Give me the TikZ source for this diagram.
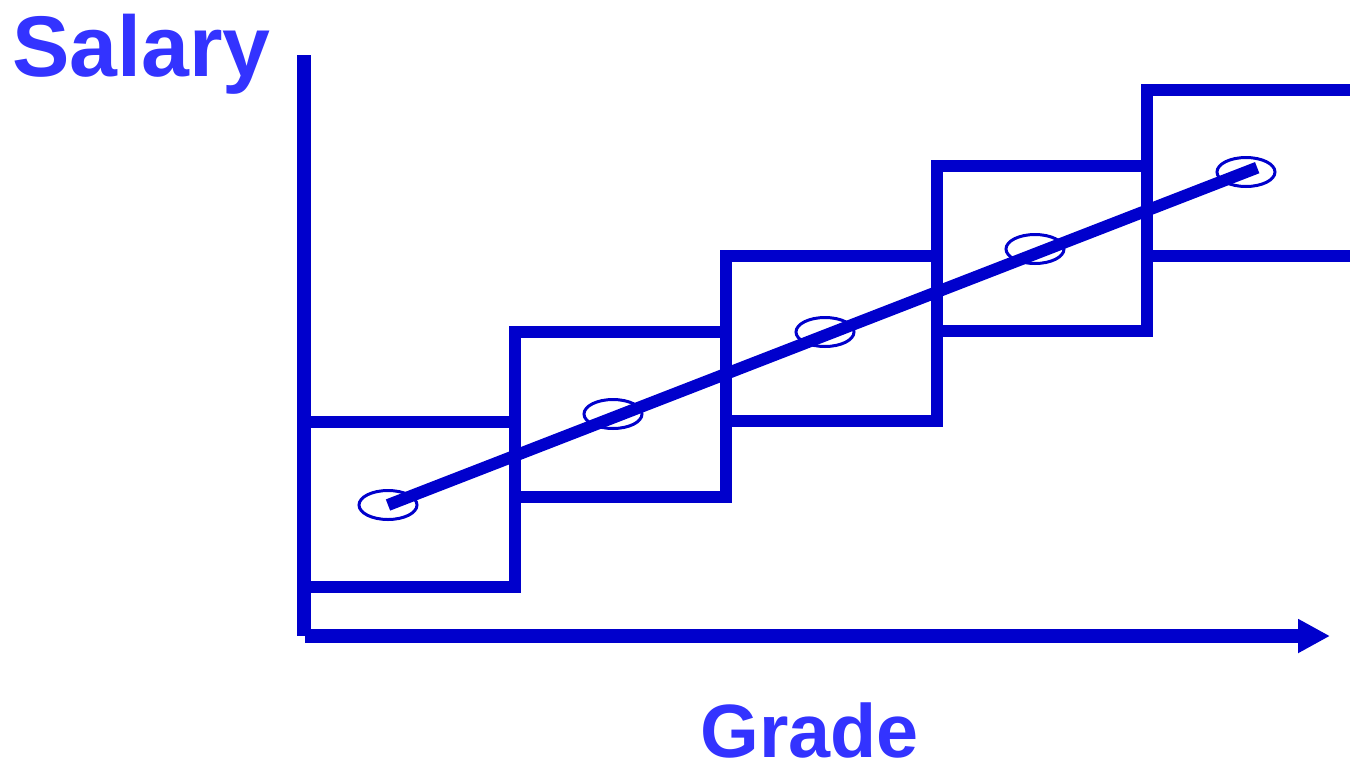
\documentclass[tikz,border=0pt]{standalone}
\usepackage{fontspec}
\setmainfont{Liberation Sans}
\usepackage{tikz}
\usetikzlibrary{arrows.meta,shapes.geometric}
\definecolor{linecol}{HTML}{0000CC}
\definecolor{labelcol}{HTML}{3333FF}

\begin{document}
\begin{tikzpicture}[x=0.02cm, y=-0.02cm, line join=miter,
  every node/.style={text=labelcol, inner sep=0pt},
  axisline/.style={draw=linecol, line width=0.28cm},
  band/.style={draw=linecol, line width=0.24cm},
  midpoint/.style={draw=linecol, ellipse, line width=0.06cm, minimum width=1.16cm, minimum height=0.58cm}]
  \useasboundingbox (0,0) rectangle (1350,765);
  % axes
  \coordinate (ytop) at (304,55);
  \coordinate (ybot) at (304,636);
  \coordinate (xstart) at (305,636);
  \coordinate (xend) at (1330,636);
  \draw[axisline] (ytop) -- (ybot);
  \draw[axisline, -{Triangle[length=0.64cm, width=0.64cm]}] (xstart) -- (xend);
  % grade bands
  \draw[band] (304,422) rectangle (515,587);
  \draw[band] (515,332) rectangle (726,497);
  \draw[band] (726,256) rectangle (937,421);
  \draw[band] (937,166) rectangle (1147,331);
  \draw[band] (1350,90) -| (1147,256) -- (1350,256);
  % midpoints and pay line
  \node[midpoint] (mid1) at (388,505) {};
  \node[midpoint] (mid2) at (613,414) {};
  \node[midpoint] (mid3) at (825,332) {};
  \node[midpoint] (mid4) at (1035,249) {};
  \node[midpoint] (mid5) at (1246,172) {};
  \draw[band, shorten >=-0.24cm] (mid1.center) -- (mid5.center);
  % labels
  \node[anchor=base west, font=\fontsize{49}{59}\selectfont\bfseries] (salary) at (12,76) {Salary};
  \node[anchor=base west, font=\fontsize{43}{52}\selectfont\bfseries] (grade) at (700,757) {Grade};
\end{tikzpicture}
\end{document}
